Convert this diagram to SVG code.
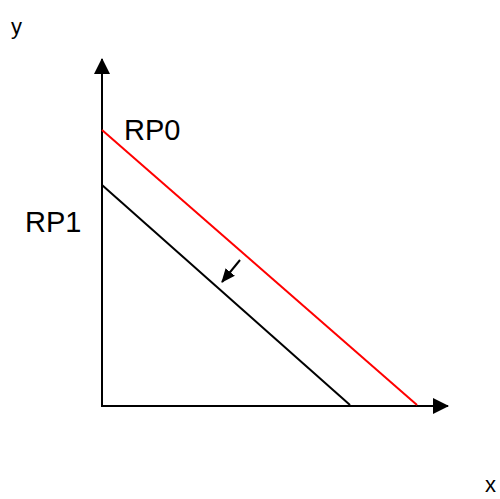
<svg xmlns="http://www.w3.org/2000/svg" width="500" height="499" viewBox="0 0 500 499">
<style>
text{font-family:"Liberation Sans",Arial,sans-serif;fill:#000}
.lbl{font-size:29px}
.ax{font-size:22px}
.axis{stroke:#000;stroke-width:2;fill:none}
</style>
<defs>
<marker id="ah" markerWidth="16" markerHeight="16" refX="15" refY="8" orient="auto" markerUnits="userSpaceOnUse">
<path d="M0,0 L16,8 L0,16 Z" fill="#000"/>
</marker>
<marker id="sm" markerWidth="14" markerHeight="14" refX="13" refY="7" orient="auto" markerUnits="userSpaceOnUse">
<path d="M0,1 L14,7 L0,13 Z" fill="#000"/>
</marker>
</defs>
<rect width="500" height="499" fill="#fff"/>
<g id="axes">
<line class="axis" x1="102" y1="407" x2="102" y2="59" marker-end="url(#ah)"/>
<line class="axis" x1="101" y1="406" x2="448" y2="406" marker-end="url(#ah)"/>
</g>
<g id="connectors">
<line x1="102" y1="130" x2="417" y2="405" stroke="#ff0000" stroke-width="2"/>
<line x1="102" y1="185" x2="350" y2="405" stroke="#000" stroke-width="2"/>
<line x1="240" y1="260" x2="222" y2="282" stroke="#000" stroke-width="2" marker-end="url(#sm)"/>
</g>
<g id="labels">
<text class="ax" x="11" y="34">y</text>
<text class="ax" x="485" y="492">x</text>
<text class="lbl" x="124" y="140">RP0</text>
<text class="lbl" x="25" y="232">RP1</text>
</g>
</svg>
